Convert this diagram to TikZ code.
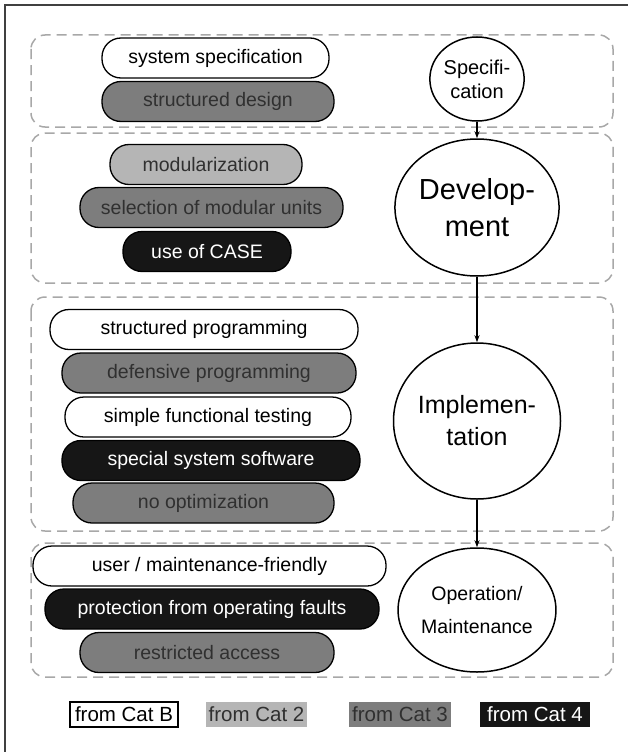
\documentclass[tikz,border=0pt]{standalone}
\usepackage{fontspec}
\setmainfont{Liberation Sans}
\usetikzlibrary{arrows.meta,shapes.geometric}
\definecolor{cattwo}{HTML}{B5B5B5}
\definecolor{catthree}{HTML}{7D7D7D}
\definecolor{catfour}{HTML}{161616}
\definecolor{phaseline}{HTML}{A8A8A8}
\definecolor{dimtext}{HTML}{303030}
\definecolor{frameline}{HTML}{404040}

\begin{document}
\begin{tikzpicture}[x=1bp,y=-1bp,font=\fontsize{19.5bp}{22bp}\selectfont,>={Stealth[length=7bp,width=5bp]}]
\tikzset{pill/.style={draw=black,line width=1.3bp,rounded corners=19bp,minimum height=40bp,inner sep=0pt}, fromB/.style={pill,fill=white}, fromtwo/.style={pill,fill=cattwo,text=dimtext}, fromthree/.style={pill,fill=catthree,text=dimtext}, fromfour/.style={pill,fill=catfour,text=white}, phase/.style={draw=phaseline,line width=1.5bp,dash pattern=on 10bp off 6bp,rounded corners=14bp}, stage/.style={ellipse,draw=black,line width=1.5bp,fill=white,inner sep=0pt,align=center}, key/.style={minimum height=25bp,inner sep=0pt,font=\fontsize{20.5bp}{22bp}\selectfont}}
\useasboundingbox (0,0) rectangle (628,752);
\draw[frameline,line width=1.5bp] (5,752) |- (628,5);
% phase frames
\draw[phase] (31,35) rectangle (613,127);
\draw[phase] (31,133) rectangle (613,283);
\draw[phase] (31,297) rectangle (613,531);
\draw[phase] (31,543) rectangle (613,677);
% measures
\node[fromB,minimum width=227bp] (sysspec) at (215.5,58) {system specification};
\node[fromthree,minimum width=232bp] (strdes) at (218,101.5) {structured design};
\node[fromtwo,minimum width=192bp] (modul) at (206,164.5) {modularization};
\node[fromthree,minimum width=263bp] (selunits) at (211.5,207.5) {selection of modular units};
\node[fromfour,minimum width=168bp] (usecase) at (207,251.5) {use of CASE};
\node[fromB,minimum width=308bp] (strprog) at (204,329.5) {structured programming};
\node[fromthree,minimum width=294bp] (defprog) at (209,373) {defensive programming};
\node[fromB,minimum width=286bp] (simtest) at (208,417) {simple functional testing};
\node[fromfour,minimum width=298bp] (syssoft) at (211,460.5) {special system software};
\node[fromthree,minimum width=261bp] (noopt) at (203.5,503) {no optimization};
\node[fromB,minimum width=353bp] (friendly) at (209.5,566) {user / maintenance-friendly};
\node[fromfour,minimum width=334bp] (protect) at (212,609) {protection from operating faults};
\node[fromthree,minimum width=254bp] (access) at (207,652.5) {restricted access};
% stages
\node[stage,minimum width=90bp,minimum height=84bp,font=\fontsize{20bp}{24bp}\selectfont] (spec) at (477,79) {Specifi-\\cation};
\node[stage,minimum width=149bp,minimum height=137bp,font=\fontsize{29bp}{37bp}\selectfont] (dev) at (477,207.5) {Develop-\\ment};
\node[stage,minimum width=165bp,minimum height=156bp,font=\fontsize{25bp}{32bp}\selectfont] (impl) at (477,421) {Implemen-\\tation};
\node[stage,minimum width=134bp,minimum height=124bp,font=\fontsize{19.5bp}{33bp}\selectfont] (oper) at (477,610) {Operation/\\Maintenance};
\draw[->,line width=1.5bp] (spec) -- (dev);
\draw[->,line width=1.5bp] (dev) -- (impl);
\draw[->,line width=1.5bp] (impl) -- (oper);
% legend
\node[key,draw=black,line width=2.2bp,fill=white,minimum width=108bp] (keyB) at (124,714.5) {from Cat B};
\node[key,fill=cattwo,text=dimtext,minimum width=101bp] (keytwo) at (256.5,714.5) {from Cat 2};
\node[key,fill=catthree,text=dimtext,minimum width=102bp] (keythree) at (400,714.5) {from Cat 3};
\node[key,fill=catfour,text=white,minimum width=110bp] (keyfour) at (535,714.5) {from Cat 4};
\end{tikzpicture}
\end{document}
